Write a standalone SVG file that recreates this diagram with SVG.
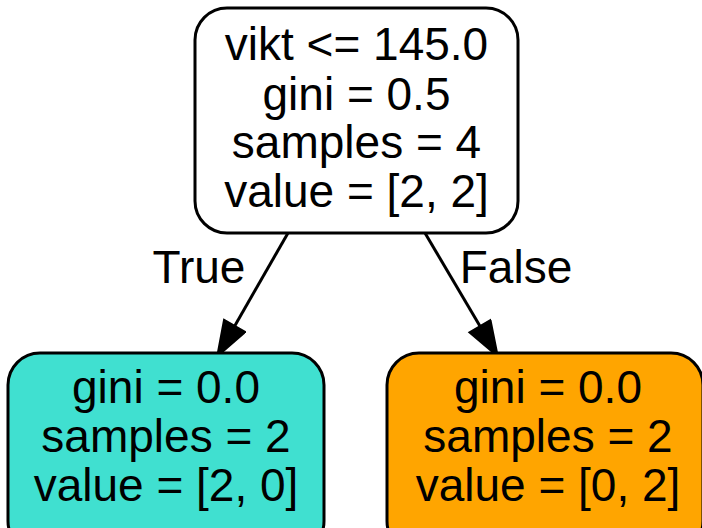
<svg xmlns="http://www.w3.org/2000/svg" width="702" height="528" viewBox="0 0 702 528">
  <style>
    .box { stroke: #000; stroke-width: 3; }
    .lbl { font-family: "Liberation Sans", Arial, Helvetica, sans-serif; font-size: 46px; fill: #000; text-anchor: middle; }
    .edge { stroke: #000; stroke-width: 3; fill: none; }
  </style>
  <defs>
    <marker id="arrow" markerUnits="userSpaceOnUse" markerWidth="40" markerHeight="30" refX="2" refY="13" orient="auto" viewBox="0 0 40 30">
      <path d="M2,1.5 L35,13 L2,24.5 Z" fill="#000" stroke="#000" stroke-width="3" stroke-linejoin="miter"/>
    </marker>
  </defs>
  <rect width="702" height="528" fill="#fff"/>

  <g id="connectors">
    <line class="edge" x1="288" y1="233" x2="234.4" y2="326.4" marker-end="url(#arrow)"/>
    <text class="lbl" x="199" y="283">True</text>
    <line class="edge" x1="425" y1="233" x2="480.2" y2="326.6" marker-end="url(#arrow)"/>
    <text class="lbl" x="516" y="283">False</text>
  </g>

  <g id="node0">
    <rect class="box" x="195" y="8" width="323" height="225" rx="32" ry="32" fill="#fff"/>
    <text class="lbl" x="356.5" y="60">vikt &lt;= 145.0</text>
    <text class="lbl" x="356.5" y="110">gini = 0.5</text>
    <text class="lbl" x="356.5" y="158">samples = 4</text>
    <text class="lbl" x="356.5" y="207">value = [2, 2]</text>
  </g>

  <g id="node1">
    <rect class="box" x="8" y="353" width="316" height="200" rx="32" ry="32" fill="#40e0d0"/>
    <text class="lbl" x="166" y="403">gini = 0.0</text>
    <text class="lbl" x="166" y="452">samples = 2</text>
    <text class="lbl" x="166" y="501">value = [2, 0]</text>
  </g>

  <g id="node2">
    <rect class="box" x="387" y="353" width="316" height="200" rx="32" ry="32" fill="#ffa500"/>
    <text class="lbl" x="548" y="403">gini = 0.0</text>
    <text class="lbl" x="548" y="452">samples = 2</text>
    <text class="lbl" x="548" y="501">value = [0, 2]</text>
  </g>
</svg>
